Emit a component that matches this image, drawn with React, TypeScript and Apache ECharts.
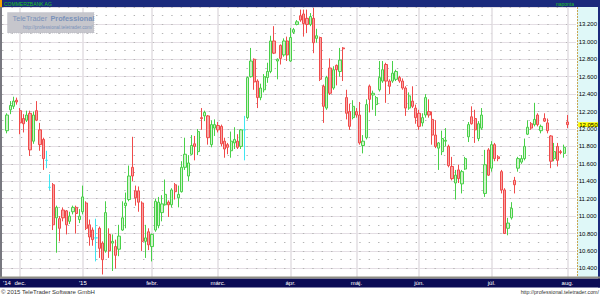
import React, { useEffect, useRef } from 'react';
import * as echarts from 'echarts';

// ---- trading days per month ----
const nov14Days = [25, 26, 27, 28];
const dec14Days = [1, 2, 3, 4, 5, 8, 9, 10, 11, 12, 15, 16, 17, 18, 19, 22, 23, 29, 30];
const jan15Days = [2, 5, 6, 7, 8, 9, 12, 13, 14, 15, 16, 19, 20, 21, 22, 23, 26, 27, 28, 29, 30];
const feb15Days = [2, 3, 4, 5, 6, 9, 10, 11, 12, 13, 16, 17, 18, 19, 20, 23, 24, 25, 26, 27];
const mar15Days = [2, 3, 4, 5, 6, 9, 10, 11, 12, 13, 16, 17, 18, 19, 20, 23, 24, 25, 26, 27, 30, 31];
const apr15Days = [1, 2, 7, 8, 9, 10, 13, 14, 15, 16, 17, 20, 21, 22, 23, 24, 27, 28, 29, 30];
const may15Days = [4, 5, 6, 7, 8, 11, 12, 13, 14, 15, 18, 19, 20, 21, 22, 26, 27, 28, 29];
const jun15Days = [1, 2, 3, 4, 5, 8, 9, 10, 11, 12, 15, 16, 17, 18, 19, 22, 23, 24, 25, 26, 29, 30];
const jul15Days = [1, 2, 3, 6, 7, 8, 9, 10, 13, 14, 15, 16, 17, 20, 21, 22, 23, 24, 27, 28, 29, 30, 31];
const aug15Days = [3];

// ---- OHLC values: [open, close, low, high] ----
const nov14 = [
  [11.98, 12.16, 11.95, 12.18], [12.22, 12.27, 12.17, 12.32], [12.26, 12.32, 12.23, 12.37], [12.33, 12.31, 12.28, 12.36],
];
const dec14 = [
  [12.21, 12.07, 11.94, 12.24], [12.12, 12.06, 11.96, 12.17], [12.10, 12.16, 12.08, 12.21], [12.18, 11.76, 11.69, 12.21],
  [11.86, 12.16, 11.83, 12.20], [12.21, 12.10, 12.09, 12.32], [11.99, 11.82, 11.75, 12.07], [11.88, 11.66, 11.53, 11.90],
  [11.64, 11.64, 11.55, 11.75], [11.33, 11.33, 11.30, 11.48], [11.36, 10.90, 10.84, 11.38], [10.98, 11.10, 10.58, 11.12],
  [10.97, 10.86, 10.71, 11.00], [11.07, 10.98, 10.94, 11.10], [11.06, 10.90, 10.79, 11.07], [10.94, 11.00, 10.91, 11.05],
  [11.05, 11.10, 11.02, 11.12], [11.10, 11.03, 10.80, 11.12], [10.96, 11.00, 10.92, 11.08],
];
const jan15 = [
  [11.05, 11.22, 11.02, 11.35], [11.15, 10.86, 10.84, 11.17], [10.90, 10.76, 10.66, 10.96], [10.84, 10.73, 10.66, 10.87],
  [10.75, 10.75, 10.48, 10.97], [10.86, 10.63, 10.52, 10.88], [10.69, 10.50, 10.33, 10.71], [10.60, 11.04, 10.58, 11.17],
  [10.79, 10.60, 10.52, 10.86], [10.69, 10.71, 10.37, 10.79], [10.65, 10.55, 10.40, 10.73], [10.62, 10.77, 10.54, 10.90],
  [10.84, 10.98, 10.83, 11.17], [11.12, 11.15, 10.86, 11.27], [11.19, 11.46, 11.17, 11.58], [11.56, 11.46, 11.40, 11.91],
  [11.29, 11.21, 11.12, 11.35], [11.29, 11.16, 11.05, 11.34], [11.15, 10.71, 10.60, 11.17], [10.71, 10.75, 10.52, 10.90],
  [10.82, 10.67, 10.61, 10.86],
];
const feb15 = [
  [10.65, 10.79, 10.48, 10.80], [10.84, 11.17, 10.82, 11.20], [10.89, 11.16, 10.86, 11.22], [11.04, 11.14, 10.94, 11.24],
  [11.13, 11.25, 11.12, 11.42], [11.16, 11.13, 10.99, 11.18], [11.13, 11.30, 11.10, 11.32], [11.36, 11.28, 11.19, 11.38],
  [11.21, 11.25, 11.10, 11.35], [11.28, 11.56, 11.27, 11.63], [11.56, 11.71, 11.53, 11.90], [11.46, 11.61, 11.40, 11.70],
  [11.71, 11.81, 11.70, 11.93], [11.83, 11.80, 11.64, 11.92], [11.74, 11.97, 11.70, 12.00], [12.13, 12.12, 11.99, 12.24],
  [12.15, 12.19, 12.09, 12.21], [12.15, 11.90, 11.82, 12.16], [11.82, 12.05, 11.79, 12.10], [12.01, 12.05, 11.92, 12.11],
];
const mar15 = [
  [12.04, 11.99, 11.96, 12.08], [12.03, 11.83, 11.80, 12.05], [11.86, 11.77, 11.67, 11.90], [11.82, 11.79, 11.71, 11.84],
  [11.75, 11.86, 11.67, 11.97], [11.84, 11.88, 11.77, 12.02], [11.86, 11.79, 11.77, 11.94], [11.80, 11.99, 11.77, 12.00],
  [11.99, 11.99, 11.64, 12.15], [12.13, 12.59, 12.11, 12.60], [12.60, 12.78, 12.59, 12.93], [12.80, 12.54, 12.45, 12.81],
  [12.55, 12.36, 12.24, 12.57], [12.36, 12.47, 12.33, 12.52], [12.45, 12.60, 12.42, 12.63], [12.59, 12.66, 12.53, 12.76],
  [12.66, 13.01, 12.64, 13.07], [13.01, 12.87, 12.86, 13.18], [12.78, 12.80, 12.57, 12.81], [12.96, 12.81, 12.74, 12.97],
  [12.85, 13.01, 12.83, 13.04], [13.01, 12.85, 12.78, 13.06],
];
const apr15 = [
  [12.78, 13.05, 12.77, 13.16], [13.11, 13.14, 13.09, 13.16], [13.20, 13.23, 13.19, 13.25], [13.30, 13.25, 13.23, 13.37],
  [13.32, 13.21, 13.06, 13.37], [13.27, 13.20, 13.10, 13.37], [13.20, 13.29, 13.18, 13.33], [13.27, 12.99, 12.87, 13.39],
  [13.04, 13.07, 12.99, 13.15], [13.05, 12.57, 12.55, 13.06], [12.49, 12.26, 12.07, 12.51], [12.24, 12.59, 12.22, 12.61],
  [12.70, 12.41, 12.39, 12.81], [12.47, 12.68, 12.45, 12.72], [12.73, 12.68, 12.50, 12.74], [12.66, 12.79, 12.60, 12.93],
  [12.93, 12.92, 12.55, 12.94], [12.36, 12.18, 12.11, 12.45], [12.20, 12.03, 11.99, 12.29], [12.13, 12.26, 12.11, 12.33],
];
const may15 = [
  [12.20, 12.16, 12.13, 12.24], [12.16, 11.84, 11.82, 12.31], [11.81, 11.86, 11.72, 11.93], [11.90, 12.28, 11.88, 12.34],
  [12.49, 12.34, 12.19, 12.51], [12.39, 12.41, 12.22, 12.44], [12.28, 12.36, 12.15, 12.38], [12.45, 12.59, 12.43, 12.78],
  [12.55, 12.68, 12.53, 12.78], [12.74, 12.55, 12.30, 12.76], [12.55, 12.49, 12.40, 12.57], [12.55, 12.64, 12.53, 12.78],
  [12.57, 12.66, 12.55, 12.68], [12.59, 12.55, 12.53, 12.61], [12.55, 12.47, 12.45, 12.58], [12.47, 12.24, 12.15, 12.49],
  [12.24, 12.38, 12.22, 12.42], [12.32, 12.26, 12.24, 12.49], [12.24, 12.13, 12.06, 12.28],
];
const jun15 = [
  [12.18, 12.03, 11.99, 12.22], [12.07, 12.13, 12.03, 12.18], [12.16, 12.36, 12.13, 12.40], [12.20, 12.16, 12.13, 12.34],
  [12.11, 11.93, 11.82, 12.20], [11.93, 11.80, 11.78, 12.10], [11.78, 11.84, 11.53, 11.85], [11.74, 11.89, 11.70, 11.98],
  [11.86, 11.87, 11.80, 12.01], [11.80, 11.58, 11.56, 11.82], [11.57, 11.43, 11.41, 11.68], [11.38, 11.47, 11.19, 11.53],
  [11.53, 11.43, 11.38, 11.59], [11.37, 11.51, 11.26, 11.53], [11.54, 11.66, 11.53, 11.68], [11.91, 12.05, 11.85, 12.08],
  [12.14, 12.06, 12.05, 12.26], [12.12, 11.99, 11.84, 12.22], [11.89, 12.06, 11.86, 12.09], [12.01, 12.16, 11.99, 12.24],
  [11.26, 11.59, 11.22, 11.76], [11.76, 11.47, 11.46, 11.78],
];
const jul15 = [
  [11.55, 11.82, 11.51, 11.86], [11.82, 11.66, 11.63, 11.84], [11.68, 11.66, 11.63, 11.70], [11.51, 11.30, 11.26, 11.53],
  [11.30, 10.80, 10.80, 11.32], [10.86, 10.92, 10.78, 10.98], [10.98, 11.09, 10.96, 11.16], [11.41, 11.36, 11.26, 11.45],
  [11.55, 11.66, 11.51, 11.68], [11.62, 11.66, 11.60, 11.70], [11.66, 11.80, 11.64, 11.89], [11.94, 12.02, 11.93, 12.10],
  [12.06, 12.01, 11.99, 12.08], [12.05, 12.11, 12.03, 12.30], [12.16, 12.05, 12.03, 12.18], [11.98, 12.03, 11.95, 12.05],
  [12.12, 12.09, 12.08, 12.18], [12.07, 11.98, 11.95, 12.12], [11.92, 11.63, 11.55, 11.93], [11.66, 11.74, 11.63, 11.84],
  [11.80, 11.64, 11.57, 11.84], [11.74, 11.73, 11.71, 11.76], [11.72, 11.79, 11.67, 11.82],
];
const aug15 = [[12.08, 12.05, 12.01, 12.16]];

// month gridline labels (Hungarian), first label is the year at the left edge
const monthLabels = ["'14", 'dec.', "'15", 'febr.', 'márc.', 'ápr.', 'máj.', 'jún.', 'júl.', 'aug.'];
// days drawn as cyan (open == close)
const dojiDays = ['2014-12-11', '2014-12-12', '2015-01-08', '2015-03-12'];
// y axis
const yMin = 10.2;
const yMax = 13.4;
const yStep = 0.2;

const monthsList = [
  { year: 2014, month: 11, days: nov14Days, ohlc: nov14 },
  { year: 2014, month: 12, days: dec14Days, ohlc: dec14 },
  { year: 2015, month: 1, days: jan15Days, ohlc: jan15 },
  { year: 2015, month: 2, days: feb15Days, ohlc: feb15 },
  { year: 2015, month: 3, days: mar15Days, ohlc: mar15 },
  { year: 2015, month: 4, days: apr15Days, ohlc: apr15 },
  { year: 2015, month: 5, days: may15Days, ohlc: may15 },
  { year: 2015, month: 6, days: jun15Days, ohlc: jun15 },
  { year: 2015, month: 7, days: jul15Days, ohlc: jul15 },
  { year: 2015, month: 8, days: aug15Days, ohlc: aug15 },
];

const FONT = '"Liberation Sans", Arial, sans-serif';
const CYAN = '#3ee6f2';

function buildOption() {
  const categories: string[] = ['p0'];
  const candles: any[] = [['-', '-', '-', '-']];
  const labelMap: Record<string, string> = {};
  const monthStarts: string[] = [];
  monthsList.forEach((mo, mi) => {
    mo.days.forEach((d, di) => {
      const key = `${mo.year}-${String(mo.month).padStart(2, '0')}-${String(d).padStart(2, '0')}`;
      categories.push(key);
      if (di === 0) {
        labelMap[key] = monthLabels[mi];
        if (mi > 0) monthStarts.push(key);
      }
      const v = mo.ohlc[di];
      if (dojiDays.includes(key)) {
        candles.push({
          value: v,
          itemStyle: { color: CYAN, color0: CYAN, borderColor: CYAN, borderColor0: CYAN, borderColorDoji: CYAN },
        });
      } else {
        candles.push(v);
      }
    });
  });
  categories.push('p1', 'p2');
  candles.push(['-', '-', '-', '-'], ['-', '-', '-', '-']);
  const last = aug15[aug15.length - 1][1];

  return {
    animation: false,
    backgroundColor: '#ffffff',
    textStyle: { fontFamily: FONT },
    grid: { left: 2.05, right: 23.4, top: 7, bottom: 9.2, containLabel: false },
    xAxis: {
      type: 'category',
      data: categories,
      boundaryGap: true,
      offset: -7,
      z: 60,
      axisLine: { show: false },
      axisTick: { show: false },
      splitLine: { show: false },
      axisLabel: {
        interval: (_i: number, v: string) => !!labelMap[v],
        formatter: (v: string) => labelMap[v] || '',
        color: '#ffffff',
        fontSize: 6,
        margin: 1.5,
        fontFamily: FONT,
      },
    },
    yAxis: [
      {
        type: 'value',
        position: 'right',
        min: yMin,
        max: yMax,
        interval: yStep,
        axisLine: { show: false },
        axisTick: { show: false },
        axisLabel: {
          color: '#000',
          fontSize: 6,
          lineHeight: 4,
          margin: 3,
          fontFamily: FONT,
          formatter: (v: number) => (v <= yMin + 0.001 || v >= yMax - 0.001 ? '' : v.toFixed(3)),
        },
        splitLine: { show: true, lineStyle: { color: '#e4dee4', width: 1 } },
      },
      {
        type: 'value',
        position: 'right',
        min: yMin,
        max: yMax,
        interval: yStep / 2,
        axisLine: { show: false },
        axisTick: { show: false },
        axisLabel: { show: false },
        splitLine: { show: true, lineStyle: { color: '#b4b4b4', width: 1, type: [1.4, 8] } },
      },
    ],
    series: [
      {
        type: 'line',
        data: categories.map(() => null),
        silent: true,
        z: 1,
        symbol: 'none',
        markLine: {
          silent: true,
          z: 1,
          symbol: ['none', 'none'],
          label: { show: false },
          lineStyle: { color: '#e4e0e4', width: 1.6, type: 'solid' },
          data: monthStarts.map((d) => ({ xAxis: d })),
        },
      },
      {
        type: 'candlestick',
        data: candles,
        yAxisIndex: 0,
        barWidth: 2.7,
        z: 3,
        itemStyle: {
          color: '#cdf3c8',
          borderColor: '#48d048',
          color0: '#f7a4a4',
          borderColor0: '#f04a4a',
          borderColorDoji: CYAN,
          borderWidth: 1,
        },
        markLine: {
          silent: true,
          symbol: ['none', 'none'],
          lineStyle: { color: 'rgba(0,0,0,0)', width: 0 },
          label: {
            show: true,
            position: 'end',
            distance: 2.5,
            formatter: last.toFixed(3),
            backgroundColor: '#ffff00',
            color: '#000',
            fontSize: 6,
            lineHeight: 4,
            fontFamily: FONT,
            padding: [0.4, 2, 0.4, 1],
          },
          data: [{ yAxis: last }],
        },
      },
    ],
    graphic: {
      elements: [
        { type: 'rect', z: -1, shape: { x: 577, y: 7, width: 21, height: 270 }, style: { fill: '#dff8f8' } },
        { type: 'line', z: 4, shape: { x1: 577.5, y1: 7, x2: 577.5, y2: 277 }, style: { stroke: '#c9a550', lineWidth: 1, lineDash: [2, 1] } },
        { type: 'line', z: 4, shape: { x1: 1, y1: 7, x2: 1, y2: 277 }, style: { stroke: '#4a4a55', lineWidth: 1.5 } },
        { type: 'rect', z: 50, shape: { x: 0, y: 0, width: 600, height: 7 }, style: { fill: '#1b2a7c' } },
        { type: 'rect', z: 51, shape: { x: 0, y: 0, width: 2, height: 7 }, style: { fill: '#f2a200' } },
        { type: 'text', z: 52, x: 4, y: 3.8, style: { text: 'COMMERZBANK AG', fill: '#1fc41f', fontSize: 5, fontFamily: FONT, verticalAlign: 'middle' } },
        { type: 'text', z: 52, x: 574, y: 3.8, style: { text: 'naponta', fill: '#1fc41f', fontSize: 5, fontFamily: FONT, align: 'right', verticalAlign: 'middle' } },
        { type: 'rect', z: 50, shape: { x: 598, y: 0, width: 2, height: 287.5 }, style: { fill: '#1b2a7c' } },
        { type: 'rect', z: 50, shape: { x: 0, y: 276.5, width: 600, height: 2.2 }, style: { fill: '#8d8d84' } },
        { type: 'rect', z: 50, shape: { x: 0, y: 278.7, width: 600, height: 8.8 }, style: { fill: '#0b0b55' } },
        { type: 'text', z: 52, x: 1, y: 291.5, style: { text: '© 2015 TeleTrader Software GmbH', fill: '#333', fontSize: 6, fontFamily: FONT, verticalAlign: 'middle' } },
        { type: 'text', z: 52, x: 599, y: 291.5, style: { text: 'http://professional.teletrader.com/', fill: '#333', fontSize: 5.3, fontFamily: FONT, align: 'right', verticalAlign: 'middle' } },
        {
          type: 'group',
          z: 20,
          children: [
            { type: 'rect', z: 20, shape: { x: 7.5, y: 12.5, width: 86.5, height: 20.5 }, style: { fill: '#c6c6cc', stroke: '#b4b4bc', lineWidth: 0.6, lineDash: [1, 1] } },
            {
              type: 'text', z: 21, x: 12.5, y: 18.8,
              style: {
                text: '{a|TeleTrader} {b|Professional}',
                verticalAlign: 'middle',
                rich: {
                  a: { fontSize: 7.3, fill: '#7a92ba', fontFamily: FONT },
                  b: { fontSize: 7.3, fill: '#7a92ba', fontWeight: 'bold', fontFamily: FONT },
                },
              },
            },
            { type: 'text', z: 21, x: 23, y: 27, style: { text: 'http://professional.teletrader.com/', fill: '#7a92ba', fontSize: 4.7, fontFamily: FONT, verticalAlign: 'middle' } },
          ],
        },
      ],
    },
  };
}

export default function App() {
  const ref = useRef<HTMLDivElement>(null);
  useEffect(() => {
    document.body.style.margin = '0';
    const chart = echarts.init(ref.current as HTMLDivElement, undefined, { renderer: 'svg' });
    chart.setOption(buildOption() as any);
    return () => chart.dispose();
  }, []);
  return <div ref={ref} style={{ width: 600, height: 295 }} />;
}
